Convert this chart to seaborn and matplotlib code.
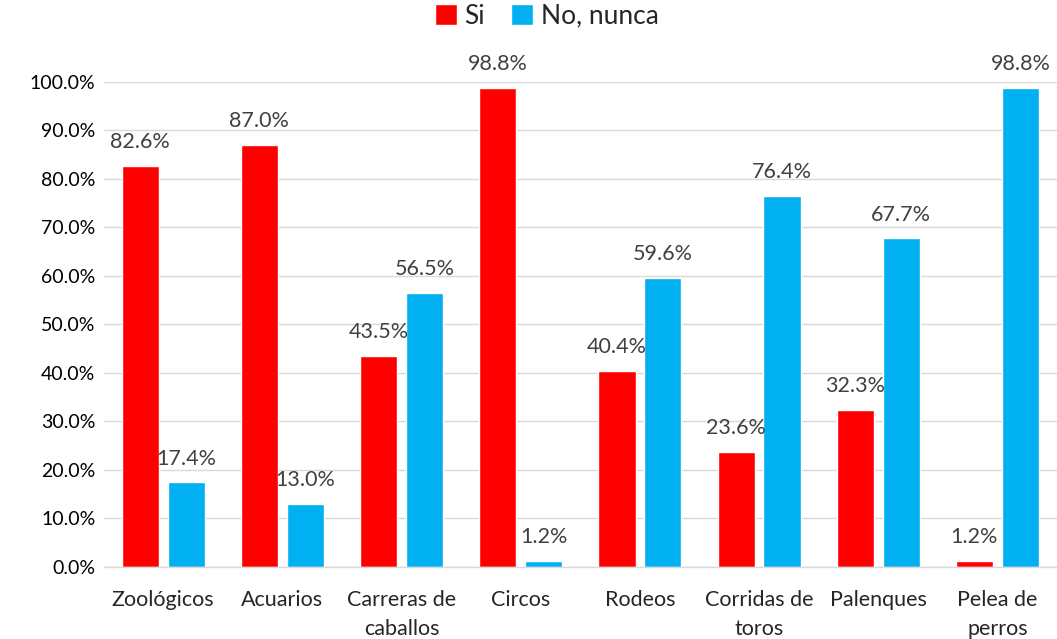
import pandas as pd
import matplotlib.pyplot as plt
import seaborn as sns

# Chart data
categories = ["Zoológicos", "Acuarios", "Carreras de\ncaballos", "Circos", "Rodeos",
              "Corridas de\ntoros", "Palenques", "Pelea de\nperros"]
si_values = [82.6, 87.0, 43.5, 98.8, 40.4, 23.6, 32.3, 1.2]
nunca_values = [17.4, 13.0, 56.5, 1.2, 59.6, 76.4, 67.7, 98.8]
series_names = ["Si", "No, nunca"]
colors = ["#ff0000", "#00b0f0"]

df = pd.DataFrame({
  "categoria": categories * 2,
  "serie": [series_names[0]] * len(categories) + [series_names[1]] * len(categories),
  "valor": [v / 100 for v in si_values] + [v / 100 for v in nunca_values],
})

sns.set_style("white")
plt.rcParams["font.family"] = ["Lato", "DejaVu Sans"]

fig = plt.figure(figsize=(10.57, 6.39), dpi=100)
ax = fig.add_axes([0.098, 0.113, 0.902, 0.759])

sns.barplot(data=df, x="categoria", y="valor", hue="serie", palette=colors,
            width=0.77, gap=0.19, ax=ax, saturation=1, legend=True)

ax.set_ylim(0, 1.0)
ax.set_yticks([i / 10 for i in range(11)])
ax.set_yticklabels([f"{i * 10:.1f}%" for i in range(11)], fontsize=14, color="#000000")
ax.set_xlim(-0.5, len(categories) - 0.5)
ax.tick_params(axis="x", labelsize=15.5, length=0, pad=17)
for lbl in ax.get_xticklabels():
  lbl.set_linespacing(1.55)
ax.tick_params(axis="y", length=0, pad=6)
ax.set_xlabel("")
ax.set_ylabel("")
ax.grid(axis="y", color="#d9d9d9", linewidth=1)
ax.set_axisbelow(True)
for side in ["left", "right", "top"]:
  ax.spines[side].set_visible(False)
ax.spines["bottom"].set_color("#d9d9d9")
ax.spines["bottom"].set_linewidth(1)

# Data labels
for container in ax.containers:
  for bar in container:
    h = bar.get_height()
    ax.annotate(f"{h * 100:.1f}%", (bar.get_x() + bar.get_width() / 2, h),
                xytext=(0, 10), textcoords="offset points", ha="center", va="bottom",
                fontsize=15.5, color="#404040", annotation_clip=False)

ax.legend(loc="upper center", bbox_to_anchor=(0.465, 1.21), ncol=2, frameon=False,
          fontsize=19, handlelength=0.8, handleheight=0.8, handletextpad=0.3,
          columnspacing=1.0)

plt.savefig("out.png", dpi=100)
